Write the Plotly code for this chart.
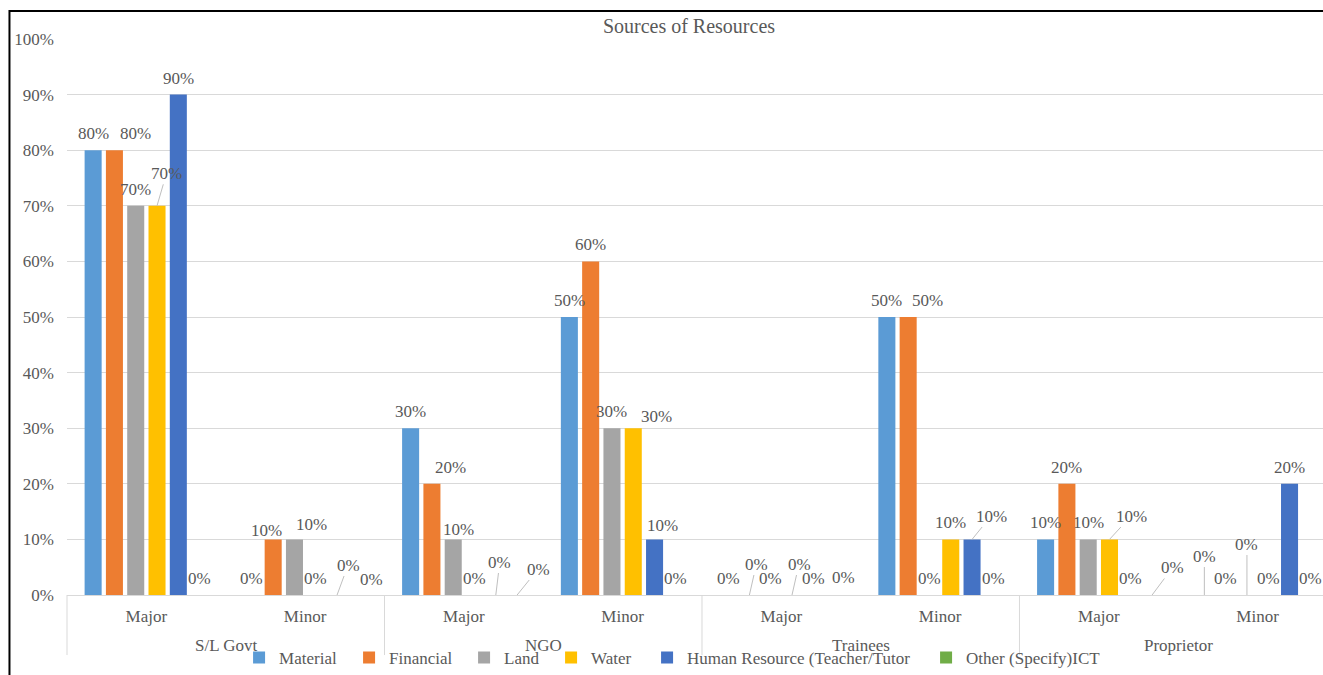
import plotly.graph_objects as go

# ---------------- data ----------------
subcats = ["Major", "Minor", "Major", "Minor", "Major", "Minor", "Major", "Minor"]
groups = ["S/L Govt", "NGO", "Trainees", "Proprietor"]
series_names = ["Material", "Financial", "Land", "Water",
                "Human Resource (Teacher/Tutor", "Other (Specify)ICT"]
material = [80, 0, 30, 50, 0, 50, 10, 0]
financial = [80, 10, 20, 60, 0, 50, 20, 0]
land = [70, 10, 10, 30, 0, 0, 10, 0]
water = [70, 0, 0, 30, 0, 10, 10, 0]
human_resource = [90, 0, 0, 10, 0, 10, 0, 20]
other_ict = [0, 0, 0, 0, 0, 0, 0, 0]
y_ticks = [0, 10, 20, 30, 40, 50, 60, 70, 80, 90, 100]

# ---------------- styles ----------------
colors = ["#5B9BD5", "#ED7D31", "#A5A5A5", "#FFC000", "#4472C4", "#70AD47"]
legend_widths = [65, 70, 42, 51, 234, 150]
FONT = "Liberation Serif"
TXT = "#595959"
GRID = "#D9D9D9"
BARGAP = 0.195
NS = 6
slot = (1 - BARGAP) / NS
XMIN, XMAX = -0.5, 7.412

# label placement tweaks (dx px, px above bar top, leader line)
DEFAULT_UP = 16.5
label_adjust = {
    (0, 1): (21, 17, False), (0, 3): (9.5, 32.5, True),
    (1, 1): (-6.5, 9, False), (1, 2): (17.5, 14.5, False),
    (1, 4): (11, 30, True), (1, 5): (13.6, 16, False),
    (2, 1): (18.6, 16, False), (2, 2): (5, 9.5, False),
    (2, 4): (4, 33, True), (2, 5): (21, 26, True),
    (3, 3): (23, 12, False), (3, 4): (7.5, 13.5, False),
    (4, 1): (7, 31, True), (4, 3): (7, 31, True), (4, 5): (9, 18, False),
    (5, 1): (19, 17, False), (5, 4): (19, 23.4, True),
    (6, 3): (21.5, 23.4, True), (6, 5): (20.5, 27.5, True),
    (7, 0): (0, 39, True), (7, 2): (0, 51, True),
}

all_series = [material, financial, land, water, human_resource, other_ict]
xs = list(range(len(subcats)))

fig = go.Figure()
for name, vals, col, lw in zip(series_names, all_series, colors, legend_widths):
    fig.add_trace(go.Bar(x=xs, y=vals, name=name, legendwidth=lw,
                         marker=dict(color=col, line=dict(width=0))))

annotations = []
for s, vals in enumerate(all_series):
    for c, v in enumerate(vals):
        xpos = c + (s - (NS - 1) / 2) * slot
        dx, up, leader = label_adjust.get((c, s), (0, DEFAULT_UP, False))
        base = dict(x=xpos, y=v, xref="x", yref="y", text=f"{v}%",
                    font=dict(family=FONT, size=17, color=TXT))
        if leader:
            base.update(showarrow=True, ax=dx, ay=-up, arrowhead=0, arrowwidth=1,
                        arrowcolor="#BFBFBF", standoff=0)
        else:
            base.update(showarrow=False, xshift=dx, yshift=up,
                        xanchor="center", yanchor="middle")
        annotations.append(base)

# group labels under category labels
def to_paper(xv):
    return (xv - XMIN) / (XMAX - XMIN)

for g, name in enumerate(groups):
    annotations.append(dict(x=to_paper(2 * g + 0.5), y=-0.0917, xref="paper", yref="paper",
                            text=name, showarrow=False, xanchor="center", yanchor="middle",
                            font=dict(family=FONT, size=17, color=TXT)))

shapes = []
for g in range(len(groups) + 1):
    xp = to_paper(2 * g - 0.5)
    shapes.append(dict(type="line", xref="paper", yref="paper", x0=xp, x1=xp,
                       y0=0, y1=-0.108, line=dict(color=GRID, width=1)))
# outer chart frame
shapes.append(dict(type="rect", xref="paper", yref="paper", x0=-0.0458, x1=1.2,
                   y0=-0.4, y1=1.0504, line=dict(color="black", width=2),
                   fillcolor="rgba(0,0,0,0)"))

fig.update_layout(
    width=1323, height=675,
    margin=dict(l=67, r=0, t=39, b=80, autoexpand=False),
    paper_bgcolor="white", plot_bgcolor="white",
    barmode="group", bargap=BARGAP, bargroupgap=0.2,
    title=dict(text="Sources of Resources", x=0.4952, xref="paper", xanchor="center",
               y=1 - 26 / 675, yanchor="middle",
               font=dict(family=FONT, size=20, color=TXT)),
    xaxis=dict(range=[XMIN, XMAX], tickvals=xs, ticktext=subcats, showgrid=False,
               showline=True, linecolor=GRID, linewidth=1, zeroline=False,
               tickfont=dict(family=FONT, size=17, color=TXT), ticks="",
               ticklabelstandoff=6),
    yaxis=dict(range=[0, 100], tickvals=y_ticks, ticktext=[f"{t}%" for t in y_ticks],
               showgrid=True, gridcolor=GRID, gridwidth=1, showline=False, zeroline=False,
               tickfont=dict(family=FONT, size=17, color=TXT), ticks="",
               ticklabelstandoff=12),
    legend=dict(orientation="h", x=0.137, xanchor="left", y=-0.113, yanchor="middle",
                font=dict(family=FONT, size=17, color=TXT), bgcolor="rgba(0,0,0,0)",
                itemclick=False),
    annotations=annotations, shapes=shapes, showlegend=True,
)

fig.write_html("out.html")
